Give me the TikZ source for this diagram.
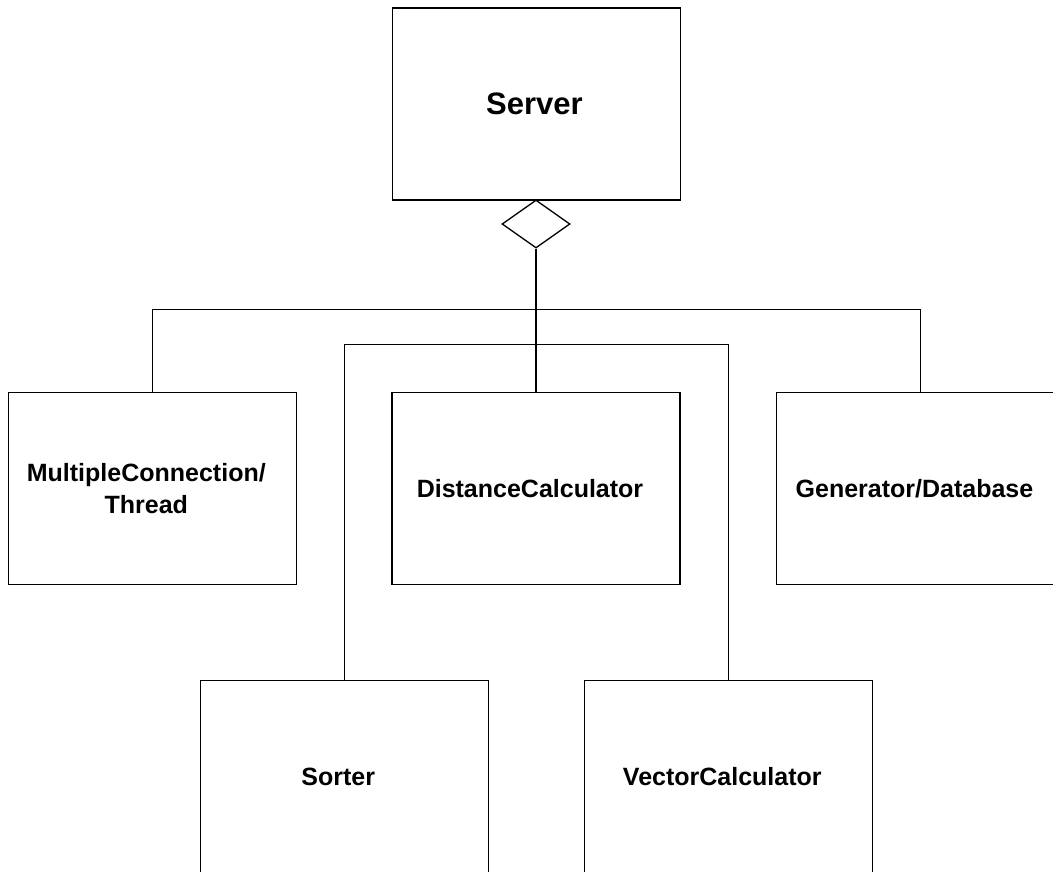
\documentclass[tikz,border=0pt]{standalone}
\usepackage{fontspec}
\setmainfont{Liberation Sans}
\usetikzlibrary{shapes.geometric}
\begin{document}
\begin{tikzpicture}[x=1pt,y=-1pt,
  wire/.style={draw=black,line width=1.3pt},
  classbox/.style={wire,rectangle,minimum width=288pt,minimum height=192pt,inner sep=0pt},
  classname/.style={font=\fontsize{25}{32}\selectfont\bfseries,align=center,xshift=-6pt},
  aggregation/.style={wire,diamond,minimum width=68pt,minimum height=48pt,inner sep=0pt,shape aspect=1.4167,fill=white}]
\useasboundingbox (0,0) rectangle (1053,872);
\clip (0,0) rectangle (1053,872);

% classes
\node[classbox] (server) at (536.5,104) {};
\node[font=\fontsize{31}{36}\selectfont\bfseries] (serverlbl) at (534.5,104) {Server};
\node[classbox] (multi) at (152.3,488.5) {};
\node[classname] (multilbl) at (multi.center) {MultipleConnection/\\Thread};
\node[classbox] (dist) at (536,488.5) {};
\node[classname] (distlbl) at (dist.center) {DistanceCalculator};
\node[classbox] (gen) at (920.5,488.5) {};
\node[classname] (genlbl) at (gen.center) {Generator/Database};
\node[classbox,minimum height=196pt] (sorter) at (344.3,778.7) {};
\node[classname] (sorterlbl) at (344.3,776.7) {Sorter};
\node[classbox,minimum height=196pt] (vector) at (728.3,778.7) {};
\node[classname] (vectorlbl) at (728.3,776.7) {VectorCalculator};

% aggregation diamond under the server
\node[aggregation] (agg) at (536,224) {};

% connectors
\coordinate (busA) at (536,309.7);
\coordinate (busB) at (536,344.7);
\draw[wire] (agg.south) -- (dist.north);
\draw[wire] (multi.north) |- (busA) -| (gen.north);
\draw[wire] (sorter.north) |- (busB) -| (vector.north);
\end{tikzpicture}
\end{document}
